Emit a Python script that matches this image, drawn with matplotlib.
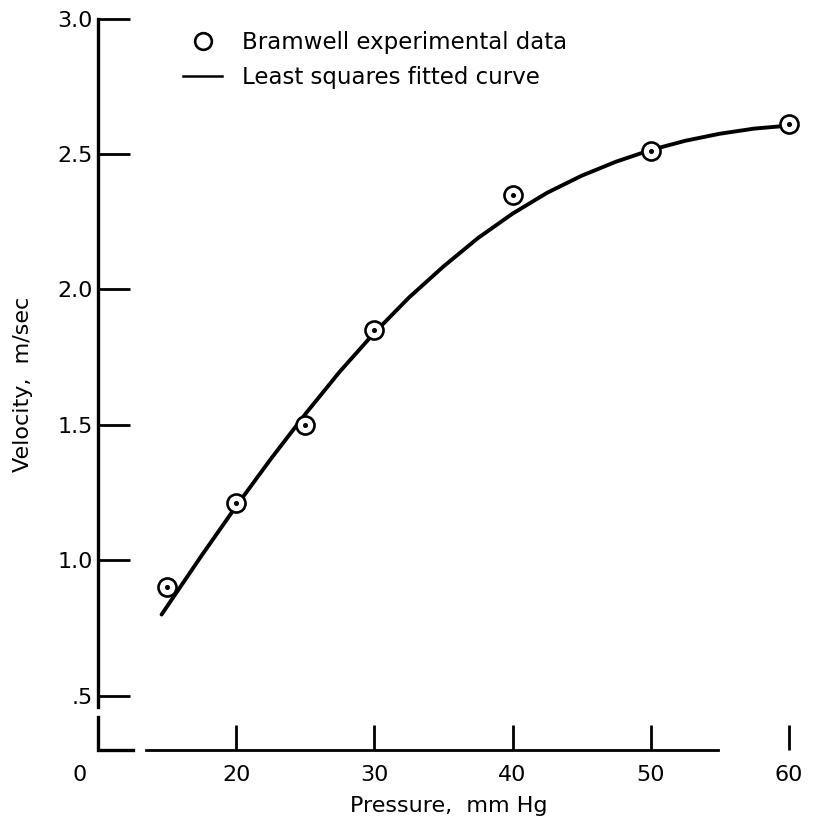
import matplotlib
matplotlib.use('Agg')
import matplotlib.pyplot as plt
from matplotlib.lines import Line2D

# ── Data ──────────────────────────────────────────────────────────────────────
pressure_exp = [15, 20, 25, 30, 40, 50, 60]
velocity_exp = [0.90, 1.21, 1.50, 1.85, 2.35, 2.51, 2.61]

# least-squares curve as drawn in the figure
pressure_fit = [14.6, 15, 17.5, 20, 22.5, 25, 27.5, 30, 32.5, 35, 37.5,
                40, 42.5, 45, 47.5, 50, 52.5, 55, 57.5, 60]
velocity_fit = [0.80, 0.83, 1.018, 1.20, 1.374, 1.54, 1.697, 1.84, 1.97, 2.085,
                2.19, 2.28, 2.357, 2.42, 2.472, 2.515, 2.549, 2.575, 2.594, 2.605]

x_ticks = [20, 30, 40, 50, 60]
y_ticks = [0.5, 1.0, 1.5, 2.0, 2.5, 3.0]
y_tick_labels = ['.5', '1.0', '1.5', '2.0', '2.5', '3.0']

plt.rcParams['font.family'] = ['DejaVu Sans']

W, H = 813, 825
fig = plt.figure(figsize=(W / 100, H / 100), dpi=100)
ax = fig.add_axes([98 / W, 1 - 750 / H, 702 / W, (750 - 18.6) / H])
ax.set_xlim(10, 60.8)
ax.set_ylim(0.30, 3.0)

# curve + circles (white fill hides the line inside)
ax.plot(pressure_fit, velocity_fit, color='black', lw=2.8, solid_capstyle='round',
        solid_joinstyle='round', zorder=2)
ax.plot(pressure_exp, velocity_exp, ls='none', marker='o', ms=13, mfc='white',
        mec='black', mew=1.9, zorder=3)
ax.plot(pressure_exp, velocity_exp, ls='none', marker='o', ms=2.6, color='black', zorder=4)

# ── Broken axes like the original drawing ─────────────────────────────────────
for s in ('top', 'right'):
    ax.spines[s].set_visible(False)
ax.spines['left'].set_linewidth(2.4)
ax.spines['left'].set_bounds(0.46, 3.0)
ax.spines['bottom'].set_linewidth(2.0)
ax.spines['bottom'].set_bounds(13.5, 54.9)
ax.plot([10, 10, 12.5], [0.42, 0.30, 0.30], color='black', lw=2.4,
        solid_joinstyle='miter', clip_on=False, zorder=5)

ax.set_xticks(x_ticks)
ax.set_xticklabels([str(v) for v in x_ticks])
ax.set_yticks(y_ticks)
ax.set_yticklabels(y_tick_labels)
ax.tick_params(axis='x', direction='in', length=18, width=2.0, pad=11, labelsize=16)
ax.tick_params(axis='y', direction='in', length=23, width=2.0, pad=4, labelsize=16)
ax.annotate('0', xy=(0, 0), xycoords='axes fraction', xytext=(-13, -11),
            textcoords='offset points', ha='center', va='top', fontsize=16)

ax.set_xlabel('Pressure,  mm Hg', fontsize=16, labelpad=8)
ax.set_ylabel('Velocity,  m/sec', fontsize=16, labelpad=17)

handles = [
    Line2D([], [], ls='none', marker='o', ms=12, mfc='white', mec='black', mew=1.9),
    Line2D([], [], color='black', lw=1.8),
]
ax.legend(handles, ['Bramwell experimental data', 'Least squares fitted curve'],
          loc='upper left', bbox_to_anchor=(172 / W, 1 - 20 / H),
          bbox_transform=fig.transFigure, frameon=False, fontsize=16.5,
          handlelength=1.7, handletextpad=0.85, labelspacing=0.5, borderpad=0)

fig.savefig('out.png', dpi=100, facecolor='white')
